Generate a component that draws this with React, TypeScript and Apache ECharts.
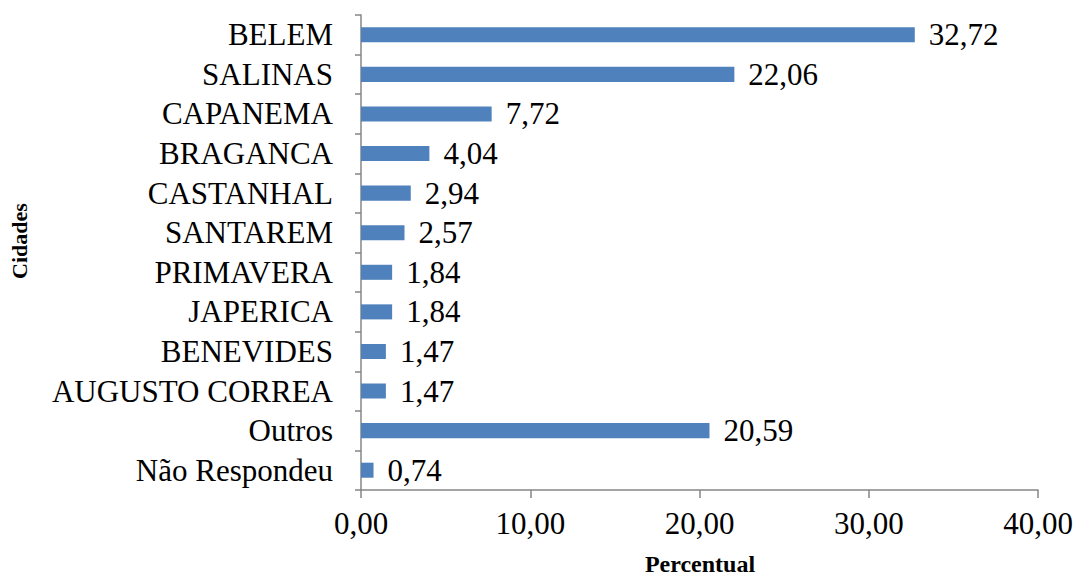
import React, { useEffect, useRef } from "react";
import * as echarts from "echarts";

const categories = [
  "BELEM",
  "SALINAS",
  "CAPANEMA",
  "BRAGANCA",
  "CASTANHAL",
  "SANTAREM",
  "PRIMAVERA",
  "JAPERICA",
  "BENEVIDES",
  "AUGUSTO CORREA",
  "Outros",
  "Não Respondeu",
];
const values = [32.72, 22.06, 7.72, 4.04, 2.94, 2.57, 1.84, 1.84, 1.47, 1.47, 20.59, 0.74];
const xAxisTitle = "Percentual";
const yAxisTitle = "Cidades";

const fmt = (v: number) => v.toFixed(2).replace(".", ",");
const FONT = "'Liberation Serif', 'Times New Roman', serif";

export default function App() {
  const ref = useRef<HTMLDivElement>(null);
  useEffect(() => {
    if (!ref.current) return;
    const chart = echarts.init(ref.current, null, { renderer: "svg" });
    chart.setOption({
      animation: false,
      textStyle: { fontFamily: FONT },
      grid: { left: 361, right: 37, top: 15, bottom: 88, containLabel: false, outerBoundsMode: "none" },
      xAxis: {
        type: "value",
        min: 0,
        max: 40,
        interval: 10,
        axisLine: { show: true, lineStyle: { color: "#868686", width: 1.5 } },
        axisTick: { show: true, length: 8, lineStyle: { color: "#868686", width: 1.5 } },
        axisLabel: { formatter: (v: number) => fmt(v), fontFamily: FONT, fontSize: 31, color: "#000", margin: 18 },
        splitLine: { show: false },
      },
      yAxis: {
        type: "category",
        data: categories,
        inverse: true,
        axisLine: { show: true, lineStyle: { color: "#868686", width: 1.5 } },
        axisTick: { show: true, length: 6, lineStyle: { color: "#868686", width: 1.5 } },
        axisLabel: { interval: 0, fontFamily: FONT, fontSize: 31, color: "#000", margin: 28 },
      },
      graphic: [
        {
          type: "text",
          x: 700,
          y: 564,
          style: {
            text: xAxisTitle,
            font: `bold 24px ${FONT}`,
            fill: "#000",
            align: "center",
            verticalAlign: "middle",
          },
        },
        {
          type: "text",
          x: 19,
          y: 241,
          rotation: Math.PI / 2,
          style: {
            text: yAxisTitle,
            font: `bold 22px ${FONT}`,
            fill: "#000",
            align: "center",
            verticalAlign: "middle",
          },
        },
      ],
      series: [
        {
          type: "bar",
          data: values,
          barWidth: "38%",
          itemStyle: { color: "#4F81BD" },
          label: {
            show: true,
            position: "right",
            distance: 14,
            formatter: (p: any) => fmt(p.value),
            fontFamily: FONT,
            fontSize: 31,
            color: "#000",
          },
        },
      ],
    });
    return () => chart.dispose();
  }, []);
  return <div ref={ref} style={{ width: 1075, height: 578, position: "absolute", left: 0, top: 0 }} />;
}
